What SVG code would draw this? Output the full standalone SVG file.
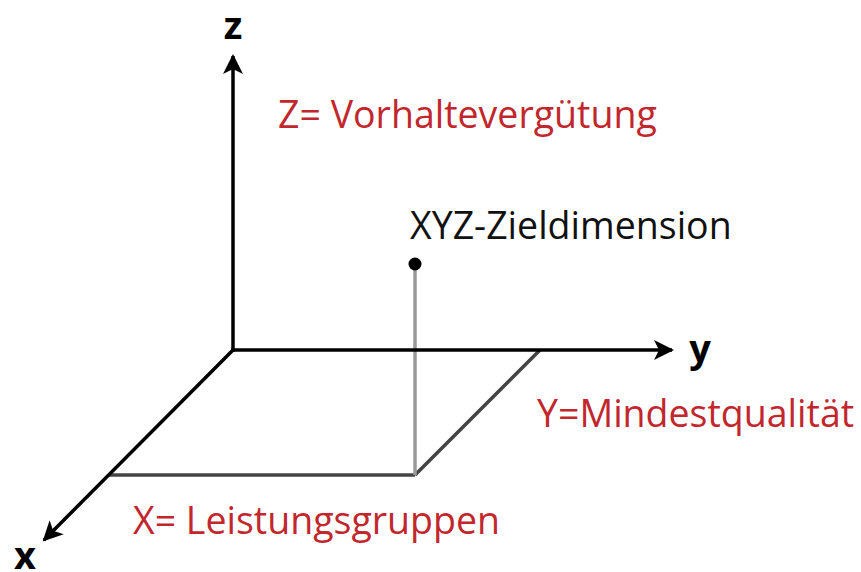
<svg xmlns="http://www.w3.org/2000/svg" width="861" height="572" viewBox="0 0 861 572">
<style>
.axis{stroke:#000;stroke-width:3.5;fill:none}
.plane{stroke:#444;stroke-width:3.5;fill:none}
.lbl{font-family:"Open Sans",sans-serif;font-size:37.5px;fill:#c1272d}
.ax{font-family:"Open Sans",sans-serif;font-size:38px;font-weight:bold;fill:#000}
.blk{font-family:"Open Sans",sans-serif;font-size:37.5px;fill:#111}
</style>
<defs>
<marker id="arr" viewBox="0 0 20 20" refX="18" refY="10" markerWidth="20" markerHeight="20" markerUnits="userSpaceOnUse" orient="auto">
<path d="M0,0 L20,10 L0,20 L5,10 Z" fill="#000"/>
</marker>
</defs>
<g id="connectors">
<line class="plane" x1="540" y1="350" x2="415" y2="475"/>
<line class="plane" x1="108" y1="475" x2="415" y2="475"/>
<line x1="415" y1="268" x2="415" y2="475" stroke="#999" stroke-width="3.5"/>
<line class="axis" x1="233" y1="352" x2="233" y2="56" marker-end="url(#arr)"/>
<line class="axis" x1="231" y1="350" x2="672" y2="350" marker-end="url(#arr)"/>
<line class="axis" x1="233" y1="350" x2="44" y2="540" marker-end="url(#arr)"/>
</g>
<g id="axis-z"><text class="ax" x="233" y="39" text-anchor="middle">z</text></g>
<g id="axis-y"><text class="ax" x="700" y="362" text-anchor="middle">y</text></g>
<g id="axis-x"><text class="ax" x="25" y="569" text-anchor="middle">x</text></g>
<g id="label-z"><text class="lbl" x="278" y="128">Z= Vorhaltevergütung</text></g>
<g id="point"><circle cx="415" cy="264" r="6.5" fill="#000"/><text class="blk" x="410" y="239">XYZ-Zieldimension</text></g>
<g id="label-y"><text class="lbl" x="537" y="427">Y=Mindestqualität</text></g>
<g id="label-x"><text class="lbl" x="133" y="534">X= Leistungsgruppen</text></g>
</svg>
